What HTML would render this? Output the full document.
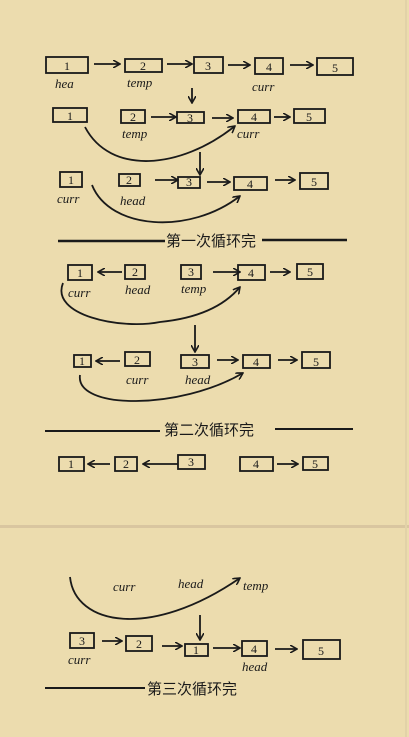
<!DOCTYPE html>
<html><head><meta charset="utf-8"><style>
html,body{margin:0;padding:0;background:#ecdcae;}
svg{display:block}
text{font-family:"Liberation Serif","Noto Sans CJK SC",serif;fill:#1a1a1a}
.l{font-size:13px;font-style:italic}
.n{font-size:12px;text-anchor:middle}
.c{font-size:15px;font-family:"Liberation Sans","Noto Sans CJK SC",sans-serif}
</style></head><body>
<svg width="409" height="737" viewBox="0 0 409 737" xmlns="http://www.w3.org/2000/svg">
<defs><marker id="a" markerWidth="8" markerHeight="8" refX="7" refY="4" orient="auto" markerUnits="userSpaceOnUse"><path d="M0,0 L7,4 L0,8" fill="none" stroke="#1a1a1a" stroke-width="1.6"/></marker></defs>
<rect width="409" height="737" fill="#ecdcae"/>
<rect x="0" y="525" width="409" height="3" fill="#d9c6a0"/>
<rect x="405" y="0" width="2" height="737" fill="#e2d2a8"/>
<g fill="none" stroke="#1a1a1a" stroke-width="1.8">
<!-- row1 -->
<rect x="46" y="57" width="42" height="16"/><rect x="125" y="59" width="37" height="13"/><rect x="194" y="57" width="29" height="16"/><rect x="255" y="58" width="28" height="16"/><rect x="317" y="58" width="36" height="17"/>
<path d="M94,64H120" marker-end="url(#a)"/><path d="M167,64H192" marker-end="url(#a)"/><path d="M228,65H250" marker-end="url(#a)"/><path d="M290,65H313" marker-end="url(#a)"/>
<path d="M192,88V103" marker-end="url(#a)"/>
<!-- row2 -->
<rect x="53" y="108" width="34" height="14"/><rect x="121" y="110" width="24" height="13"/><rect x="177" y="112" width="27" height="11"/><rect x="238" y="110" width="32" height="13"/><rect x="294" y="109" width="31" height="14"/>
<path d="M151,117H176" marker-end="url(#a)"/><path d="M212,118H233" marker-end="url(#a)"/><path d="M274,117H290" marker-end="url(#a)"/>
<path d="M85,127C110,175 180,170 235,126" marker-end="url(#a)"/>
<path d="M200,152V175" marker-end="url(#a)"/>
<!-- row3 -->
<rect x="60" y="172" width="22" height="15"/><rect x="119" y="174" width="21" height="12"/><rect x="178" y="177" width="22" height="11"/><rect x="234" y="177" width="33" height="13"/><rect x="300" y="173" width="28" height="16"/>
<path d="M155,180H178" marker-end="url(#a)"/><path d="M207,182H230" marker-end="url(#a)"/><path d="M275,180H295" marker-end="url(#a)"/>
<path d="M92,185C110,230 190,235 240,196" marker-end="url(#a)"/>
<path d="M58,241H165M262,240H347" stroke-width="2.5"/>
<!-- row4 -->
<rect x="68" y="265" width="24" height="15"/><rect x="125" y="265" width="20" height="14"/><rect x="181" y="265" width="20" height="14"/><rect x="238" y="265" width="27" height="15"/><rect x="297" y="264" width="26" height="15"/>
<path d="M122,272H98" marker-end="url(#a)"/><path d="M213,272H240" marker-end="url(#a)"/><path d="M270,272H290" marker-end="url(#a)"/>
<path d="M63,283C50,315 120,330 160,322C200,318 225,305 240,287" marker-end="url(#a)"/>
<path d="M195,325V352" marker-end="url(#a)"/>
<!-- row5 -->
<rect x="74" y="355" width="17" height="12"/><rect x="125" y="352" width="25" height="14"/><rect x="181" y="355" width="28" height="13"/><rect x="243" y="355" width="27" height="13"/><rect x="302" y="352" width="28" height="16"/>
<path d="M120,361H96" marker-end="url(#a)"/><path d="M217,360H238" marker-end="url(#a)"/><path d="M278,360H297" marker-end="url(#a)"/>
<path d="M80,375C75,410 180,410 243,373" marker-end="url(#a)"/>
<path d="M45,431H160M275,429H353" stroke-width="2"/>
<!-- row6 -->
<rect x="59" y="457" width="25" height="14"/><rect x="115" y="457" width="22" height="14"/><rect x="178" y="455" width="27" height="14"/><rect x="240" y="457" width="33" height="14"/><rect x="303" y="457" width="25" height="13"/>
<path d="M110,464H88" marker-end="url(#a)"/><path d="M178,464H143" marker-end="url(#a)"/><path d="M277,464H298" marker-end="url(#a)"/>
<!-- panel 2 -->
<path d="M70,577C75,625 150,640 240,578" marker-end="url(#a)"/>
<path d="M200,615V640" marker-end="url(#a)"/>
<rect x="70" y="633" width="24" height="15"/><rect x="126" y="636" width="26" height="15"/><rect x="185" y="644" width="23" height="12"/><rect x="242" y="641" width="25" height="15"/><rect x="303" y="640" width="37" height="19"/>
<path d="M102,641H122" marker-end="url(#a)"/><path d="M162,646H182" marker-end="url(#a)"/><path d="M213,648H240" marker-end="url(#a)"/><path d="M275,649H297" marker-end="url(#a)"/>
<path d="M45,688H145" stroke-width="2"/>
</g>
<g>
<text class="n" x="67" y="70">1</text><text class="n" x="143" y="70">2</text><text class="n" x="208" y="70">3</text><text class="n" x="269" y="71">4</text><text class="n" x="335" y="72">5</text>
<text class="l" x="55" y="88">hea</text><text class="l" x="127" y="87">temp</text><text class="l" x="252" y="91">curr</text>
<text class="n" x="70" y="120">1</text><text class="n" x="133" y="121">2</text><text class="n" x="190" y="122">3</text><text class="n" x="254" y="121">4</text><text class="n" x="309" y="121">5</text>
<text class="l" x="122" y="138">temp</text><text class="l" x="237" y="138">curr</text>
<text class="n" x="71" y="184">1</text><text class="n" x="129" y="184">2</text><text class="n" x="189" y="186">3</text><text class="n" x="250" y="188">4</text><text class="n" x="314" y="186">5</text>
<text class="l" x="57" y="203">curr</text><text class="l" x="120" y="205">head</text>
<text class="c" x="166" y="246">第一次循环完</text>
<text class="n" x="80" y="277">1</text><text class="n" x="135" y="276">2</text><text class="n" x="191" y="276">3</text><text class="n" x="251" y="277">4</text><text class="n" x="310" y="276">5</text>
<text class="l" x="68" y="297">curr</text><text class="l" x="125" y="294">head</text><text class="l" x="181" y="293">temp</text>
<text class="n" x="82" y="365">1</text><text class="n" x="137" y="364">2</text><text class="n" x="195" y="366">3</text><text class="n" x="256" y="366">4</text><text class="n" x="316" y="366">5</text>
<text class="l" x="126" y="384">curr</text><text class="l" x="185" y="384">head</text>
<text class="c" x="164" y="435">第二次循环完</text>
<text class="n" x="71" y="468">1</text><text class="n" x="126" y="468">2</text><text class="n" x="191" y="466">3</text><text class="n" x="256" y="468">4</text><text class="n" x="315" y="468">5</text>
<text class="l" x="113" y="591">curr</text><text class="l" x="178" y="588">head</text><text class="l" x="243" y="590">temp</text>
<text class="n" x="82" y="645">3</text><text class="n" x="139" y="648">2</text><text class="n" x="196" y="654">1</text><text class="n" x="254" y="653">4</text><text class="n" x="321" y="655">5</text>
<text class="l" x="68" y="664">curr</text><text class="l" x="242" y="671">head</text>
<text class="c" x="147" y="694">第三次循环完</text>
</g>
</svg>
</body></html>
